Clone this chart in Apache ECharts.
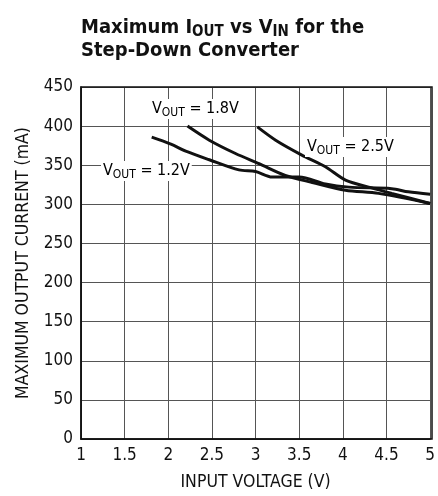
<!DOCTYPE html>
<html>
<head>
<meta charset="utf-8">
<script src="https://cdn.jsdelivr.net/npm/echarts@6/dist/echarts.min.js"></script>
<style>
  html, body { margin: 0; padding: 0; background: #fff; }
  #chart { width: 438px; height: 496px; }
</style>
</head>
<body>
<div id="chart"></div>
<script>
// input voltage (V) vs max output current (mA)
var vin12 = [1.81, 2.03, 2.2, 2.47, 2.81, 3.0, 3.19, 3.5, 3.8, 4.07, 4.56, 4.75, 5.0];
var iout12 = [386, 377, 368, 357, 344, 342, 335, 335, 326, 322, 320, 316, 313];
var vin18 = [2.22, 2.47, 2.77, 3.04, 3.34, 3.65, 4.03, 4.41, 5.0];
var iout18 = [400, 382, 365, 352, 337, 328, 318, 314, 301];
var vin25 = [3.02, 3.23, 3.53, 3.8, 4.03, 4.33, 4.56, 5.0];
var iout25 = [399, 382, 363, 348, 331, 321, 314, 301];
var seriesNames = ['1.2V', '1.8V', '2.5V'];

var FONT = '"Liberation Sans Narrow", "DejaVu Sans Condensed", sans-serif';

function pairs(xs, ys) {
  return xs.map(function (x, i) { return [x, ys[i]]; });
}

function lineSeries(name, xs, ys) {
  return {
    name: name,
    type: 'line',
    data: pairs(xs, ys),
    showSymbol: false,
    smooth: 0.3,
    lineStyle: { color: '#111', width: 3 },
    silent: true
  };
}

var labelRich = {
  a: { fontFamily: FONT, fontSize: 16, color: '#111' },
  s: { fontFamily: FONT, fontSize: 12, color: '#111', padding: [8, 0, 0, 0] }
};

function voutLabel(txt, left, top) {
  return {
    type: 'text',
    left: left,
    top: top,
    z: 100,
    style: {
      text: '{a|V}{s|OUT}{a| = ' + txt + '}',
      rich: labelRich,
      backgroundColor: '#fff',
      padding: [0, 2, 0, 2]
    }
  };
}

var myChart = echarts.init(document.getElementById('chart'));
myChart.setOption({
  backgroundColor: '#fff',
  animation: false,
  title: {
    left: 76,
    top: 11,
    text: '{a|Maximum I}{s|OUT}{a| vs V}{s|IN}{a| for the}\n{a|Step-Down Converter}',
    textStyle: {
      rich: {
        a: { fontFamily: FONT, fontSize: 20, fontWeight: 'bold', color: '#111', lineHeight: 22 },
        s: { fontFamily: FONT, fontSize: 15, fontWeight: 'bold', color: '#111', padding: [9, 0, 0, 0] }
      }
    }
  },
  grid: { left: 81, right: 6, top: 87, bottom: 57 },
  xAxis: {
    type: 'value',
    min: 1,
    max: 5,
    interval: 0.5,
    name: 'INPUT VOLTAGE (V)',
    nameLocation: 'middle',
    nameGap: 34,
    nameTextStyle: { fontFamily: FONT, fontSize: 17.5, color: '#111' },
    axisLine: { lineStyle: { color: '#111', width: 1.5 } },
    axisTick: { show: false },
    axisLabel: { fontFamily: FONT, fontSize: 17, color: '#111', margin: 8 },
    splitLine: { show: true, lineStyle: { color: '#555', width: 1 } }
  },
  yAxis: {
    type: 'value',
    min: 0,
    max: 450,
    interval: 50,
    name: 'MAXIMUM OUTPUT CURRENT (mA)',
    nameLocation: 'middle',
    nameGap: 49,
    nameTextStyle: { fontFamily: FONT, fontSize: 17.5, color: '#111' },
    axisLine: { show: true, lineStyle: { color: '#111', width: 1.5 } },
    axisTick: { show: false },
    axisLabel: { fontFamily: FONT, fontSize: 17, color: '#111', margin: 8 },
    splitLine: { show: true, lineStyle: { color: '#555', width: 1 } }
  },
  graphic: [
    {
      type: 'rect',
      shape: { x: 81, y: 87, width: 351, height: 352 },
      style: { fill: 'none', stroke: '#111', lineWidth: 1.5 },
      z: 50,
      silent: true
    },
    voutLabel(seriesNames[1], 150, 99),
    voutLabel(seriesNames[0], 101, 161),
    voutLabel(seriesNames[2], 305, 137)
  ],
  series: [
    lineSeries(seriesNames[0], vin12, iout12),
    lineSeries(seriesNames[1], vin18, iout18),
    lineSeries(seriesNames[2], vin25, iout25)
  ]
});
</script>
</body>
</html>
